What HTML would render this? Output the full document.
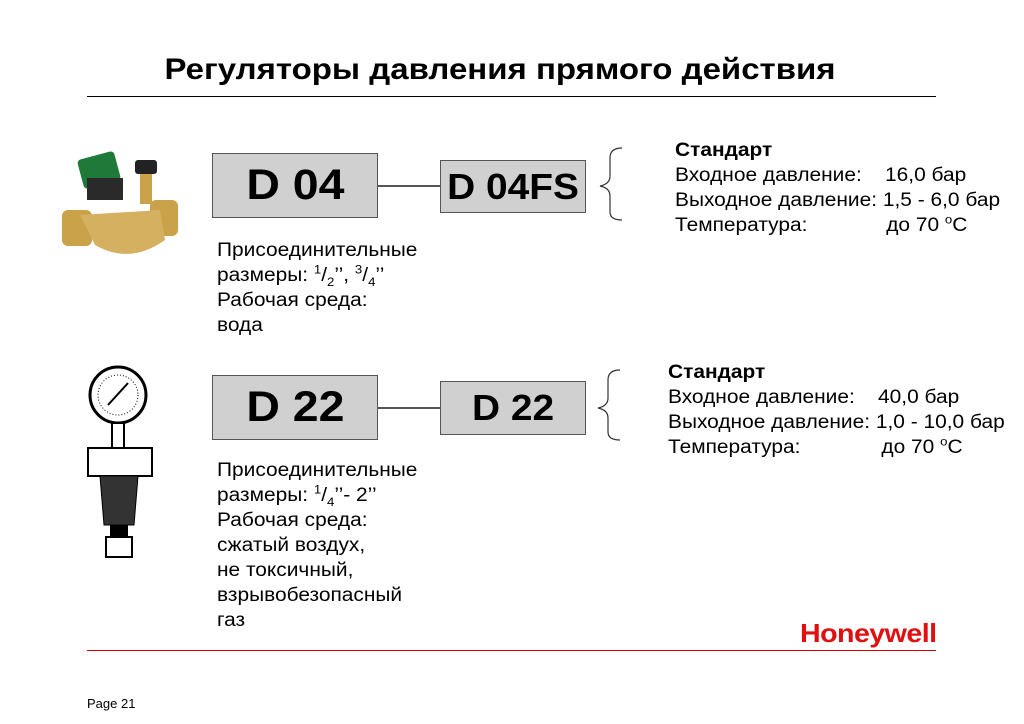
<!DOCTYPE html>
<html><head><meta charset="utf-8"><style>
body{margin:0;width:1024px;height:724px;background:#fff;position:relative;overflow:hidden;font-family:"Liberation Sans",Arial,sans-serif;color:#000}
.a{position:absolute;white-space:nowrap}
.s{transform:scaleX(1.1);transform-origin:0 0}
.box{position:absolute;background:#d0d0d0;border:1.5px solid #555;box-sizing:border-box;display:flex;align-items:center;justify-content:center;font-weight:bold}
.box span{display:inline-block;transform:scaleX(1.08)}
.t{font-size:19px;line-height:25px}
sup,sub{font-size:12px;line-height:0}
</style></head><body>
<div class="a" style="left:0;width:1000px;text-align:center;top:53px;font-size:30px;font-weight:bold;transform:scaleX(1.1);transform-origin:500px 0">Регуляторы давления прямого действия</div>
<div class="a" style="left:87px;top:96px;width:849px;height:1px;background:#000"></div>
<div class="a" style="left:87px;top:650px;width:849px;height:1px;background:#d00"></div>
<div class="a" style="left:87px;top:696px;font-size:13px">Page 21</div>
<div class="a" style="left:800px;top:618px;font-size:26px;font-weight:bold;color:#e01010;letter-spacing:-0.5px;transform:scaleX(1.1);transform-origin:0 0">Honeywell</div>

<div class="box" style="left:212px;top:153px;width:166px;height:65px;font-size:43px"><span>D 04</span></div>
<div class="a" style="left:378px;top:185px;width:62px;height:1.5px;background:#555"></div>
<div class="box" style="left:440px;top:160px;width:146px;height:53px;font-size:36px"><span>D 04FS</span></div>
<div class="box" style="left:212px;top:375px;width:166px;height:65px;font-size:43px"><span>D 22</span></div>
<div class="a" style="left:378px;top:407px;width:62px;height:1.5px;background:#555"></div>
<div class="box" style="left:440px;top:381px;width:146px;height:54px;font-size:36px"><span>D 22</span></div>

<svg class="a" style="left:0;top:0" width="1024" height="724">
<path d="M622 148 Q610 148 610 158 L610 176 Q610 184 600 186 Q610 188 610 196 L610 212 Q610 220 622 220" fill="none" stroke="#333" stroke-width="1.2"/>
<path d="M620 370 Q608 370 608 380 L608 398 Q608 406 598 408 Q608 410 608 418 L608 432 Q608 440 620 440" fill="none" stroke="#333" stroke-width="1.2"/>
<rect x="62" y="210" width="30" height="36" rx="6" fill="#c9a24a"/>
<rect x="150" y="200" width="28" height="36" rx="6" fill="#c9a24a"/>
<path d="M80 215 L160 210 L165 240 Q130 265 95 245 Z" fill="#d4b060"/>
<rect x="80" y="155" width="38" height="30" rx="4" fill="#1f7a3a" transform="rotate(-15 99 170)"/>
<rect x="87" y="178" width="36" height="22" fill="#2a2a2a"/>
<rect x="135" y="160" width="22" height="14" rx="3" fill="#222"/>
<rect x="140" y="174" width="12" height="30" fill="#c9a24a"/>
<circle cx="118" cy="395" r="28" fill="#fff" stroke="#000" stroke-width="3"/>
<circle cx="118" cy="395" r="20" fill="none" stroke="#000" stroke-width="1" stroke-dasharray="1 2"/>
<line x1="108" y1="405" x2="128" y2="383" stroke="#000" stroke-width="2"/>
<rect x="112" y="423" width="12" height="25" fill="#fff" stroke="#000" stroke-width="2"/>
<rect x="88" y="448" width="64" height="28" fill="#fff" stroke="#000" stroke-width="2"/>
<path d="M100 476 L138 476 L134 525 L104 525 Z" fill="#333" stroke="#000"/>
<rect x="110" y="525" width="18" height="12" fill="#000"/>
<rect x="106" y="537" width="26" height="20" fill="#fff" stroke="#000" stroke-width="2"/>
</svg>

<div class="a t s" style="left:217px;top:238px">Присоединительные<br>размеры: <sup>1</sup>/<sub>2</sub>’’, <sup>3</sup>/<sub>4</sub>’’<br>Рабочая среда:<br>вода</div>
<div class="a t s" style="left:217px;top:458px">Присоединительные<br>размеры: <sup>1</sup>/<sub>4</sub>’’- 2’’<br>Рабочая среда:<br>сжатый воздух,<br>не токсичный,<br>взрывобезопасный<br>газ</div>

<div class="a t s" style="left:675px;top:138px"><b>Стандарт</b><br>Входное давление:&nbsp;&nbsp;&nbsp; 16,0 бар<br>Выходное давление: 1,5 - 6,0 бар<br>Температура:<span style="position:absolute;left:192px">до 70 <sup>o</sup>C</span></div>
<div class="a t s" style="left:668px;top:360px"><b>Стандарт</b><br>Входное давление:&nbsp;&nbsp;&nbsp; 40,0 бар<br>Выходное давление: 1,0 - 10,0 бар<br>Температура:<span style="position:absolute;left:194px">до 70 <sup>o</sup>C</span></div>
</body></html>
